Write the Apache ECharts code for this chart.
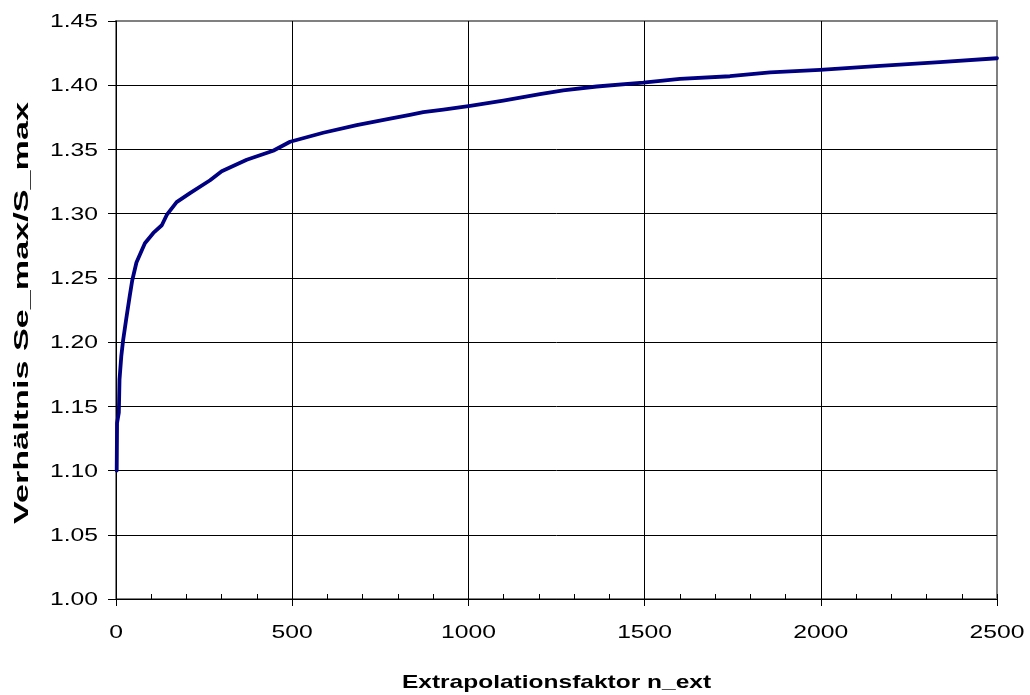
<!DOCTYPE html>
<html>
<head>
<meta charset="utf-8">
<title>Verhältnis Se_max/S_max</title>
<script src="https://cdn.jsdelivr.net/npm/echarts@6/dist/echarts.min.js"></script>
<style>
  html, body { margin: 0; padding: 0; background: #fff; }
  #chart { width: 1030px; height: 695px; }
</style>
</head>
<body>
<div id="chart"></div>
<script>
// Extrapolationsfaktor n_ext
const nExt = [2, 3, 8, 10, 15, 20, 29, 39, 46, 58, 82, 106, 130, 144, 172, 210, 267, 300,
  371, 446, 494, 588, 683, 778, 834, 872, 929, 1005, 1099, 1203, 1269, 1364, 1496, 1600,
  1742, 1856, 1998, 2168, 2338, 2500];
// Verhältnis Se_max/S_max
const ratio = [1.100, 1.137, 1.145, 1.171, 1.189, 1.201, 1.218, 1.236, 1.248, 1.262, 1.277,
  1.285, 1.291, 1.299, 1.309, 1.316, 1.326, 1.333, 1.342, 1.349, 1.356, 1.363, 1.369, 1.374,
  1.377, 1.379, 1.381, 1.384, 1.388, 1.393, 1.396, 1.399, 1.402, 1.405, 1.407, 1.410, 1.412,
  1.415, 1.418, 1.421];
const xTicks = [0, 500, 1000, 1500, 2000, 2500];
const yTicks = [1.00, 1.05, 1.10, 1.15, 1.20, 1.25, 1.30, 1.35, 1.40, 1.45];
const xTitle = 'Extrapolationsfaktor n_ext';
const yTitle = 'Verhältnis Se_max/S_max';

const FONT = '"Liberation Sans", Arial, sans-serif';
const points = nExt.map((x, i) => [x, ratio[i]]);

const chart = echarts.init(document.getElementById('chart'), null, { renderer: 'canvas' });
chart.setOption({
  animation: false,
  backgroundColor: '#ffffff',
  grid: {
    left: 116, right: 33, top: 21, bottom: 96,
    show: true, borderColor: '#808080', borderWidth: 2, backgroundColor: 'transparent'
  },
  xAxis: [{
    type: 'value',
    min: xTicks[0], max: xTicks[xTicks.length - 1], interval: 500,
    axisLine: { show: true, lineStyle: { color: '#000', width: 1 } },
    axisTick: { show: true, inside: false, length: 7, lineStyle: { color: '#000' } },
    axisLabel: { show: false },
    splitLine: { show: true, showMaxLine: false, lineStyle: { color: '#000', width: 1 } }
  }, {
    type: 'value',
    position: 'bottom',
    min: xTicks[0], max: xTicks[xTicks.length - 1], interval: 500,
    axisLine: { show: false },
    axisTick: { show: true, inside: true, length: 5, lineStyle: { color: '#000' } },
    minorTick: { show: true, splitNumber: 5, length: 5, lineStyle: { color: '#000' } },
    axisLabel: { show: false },
    splitLine: { show: false }
  }],
  yAxis: {
    type: 'value',
    min: yTicks[0], max: yTicks[yTicks.length - 1], interval: 0.05,
    axisLine: { show: true, lineStyle: { color: '#000', width: 1 } },
    axisTick: { show: true, inside: false, length: 8, lineStyle: { color: '#000' } },
    axisLabel: { show: false },
    splitLine: { show: true, showMaxLine: false, lineStyle: { color: '#000', width: 1 } }
  },
  series: [{
    type: 'line',
    data: points,
    showSymbol: false,
    symbol: 'none',
    smooth: false,
    lineStyle: { color: '#000080', width: 3.8, join: 'round', cap: 'round' },
    z: 5
  }]
});

// Tick labels and axis titles use a wide (horizontally stretched) Arial look,
// so they are placed as text elements positioned through the axes.
const labelStyle = { fontFamily: FONT, fontSize: 19, fill: '#000' };
const graphics = [];
const yAxisX = chart.convertToPixel({ xAxisIndex: 0 }, xTicks[0]);
const xAxisY = chart.convertToPixel({ yAxisIndex: 0 }, yTicks[0]);

yTicks.forEach(v => {
  graphics.push({
    type: 'text',
    x: yAxisX - 18,
    y: chart.convertToPixel({ yAxisIndex: 0 }, v) + 1,
    scaleX: 1.3,
    style: Object.assign({ text: v.toFixed(2), align: 'right', verticalAlign: 'middle' }, labelStyle)
  });
});
xTicks.forEach(v => {
  graphics.push({
    type: 'text',
    x: chart.convertToPixel({ xAxisIndex: 0 }, v),
    y: xAxisY + 34,
    scaleX: 1.3,
    style: Object.assign({ text: String(v), align: 'center', verticalAlign: 'middle' }, labelStyle)
  });
});
const gridRect = chart.getModel().getComponent('grid').coordinateSystem.getRect();
graphics.push({
  type: 'text',
  x: gridRect.x + gridRect.width / 2,
  y: 683,
  scaleX: 1.29,
  style: { text: xTitle, align: 'center', verticalAlign: 'middle',
           fontFamily: FONT, fontSize: 19, fontWeight: 'bold', fill: '#000' }
});
graphics.push({
  type: 'text',
  x: 22,
  y: gridRect.y + gridRect.height / 2 + 3,
  rotation: Math.PI / 2,
  scaleX: 1.71,
  style: { text: yTitle, align: 'center', verticalAlign: 'middle',
           fontFamily: FONT, fontSize: 20, fontWeight: 'bold', fill: '#000' }
});
chart.setOption({ graphic: graphics });
</script>
</body>
</html>
